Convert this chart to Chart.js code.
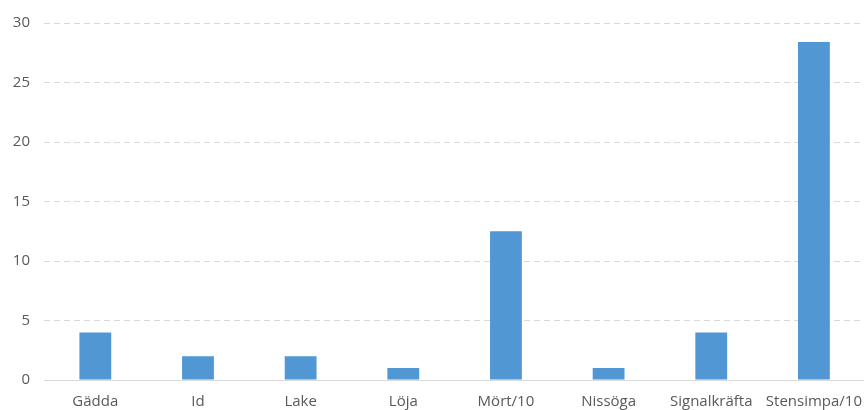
<!DOCTYPE html>
<html>
<head>
<meta charset="utf-8">
<script src="https://cdn.jsdelivr.net/npm/chart.js@4/dist/chart.umd.min.js"></script>
<style>
  html, body { margin: 0; padding: 0; background: #fff; overflow: hidden; }
  #wrap { width: 864px; height: 410px; overflow: hidden; }
</style>
</head>
<body>
<div id="wrap"><canvas id="chart" width="867" height="410"></canvas></div>
<script>
// Data
const categories = ['Gädda', 'Id', 'Lake', 'Löja', 'Mört/10', 'Nissöga', 'Signalkräfta', 'Stensimpa/10'];
const values = [4, 2, 2, 1, 12.5, 1, 4, 28.4];
const yTicks = [0, 5, 10, 15, 20, 25, 30];

const ctx = document.getElementById('chart').getContext('2d');
new Chart(ctx, {
    type: 'bar',
    data: {
        labels: categories,
        datasets: [{
            data: values,
            backgroundColor: '#5097d4',
            categoryPercentage: 1,
            barPercentage: 0.31
        }]
    },
    options: {
        responsive: false,
        animation: false,
        layout: { padding: { top: 22, right: 0, left: 0, bottom: 0 } },
        plugins: { legend: { display: false }, tooltip: { enabled: false } },
        scales: {
            x: {
                grid: { display: false },
                border: { color: '#d9d9d9', width: 1 },
                ticks: { color: '#595959', font: { family: 'Open Sans', size: 15 }, padding: 5, maxRotation: 0 },
                afterFit: (s) => { s.height = 30; }
            },
            y: {
                min: 0,
                max: 30,
                afterBuildTicks: (s) => { s.ticks = yTicks.map(v => ({ value: v })); },
                grid: {
                    color: (c) => c.tick && c.tick.value === 0 ? 'rgba(0,0,0,0)' : '#d9d9d9',
                    tickLength: 0
                },
                border: { display: false, dash: [6, 4] },
                ticks: { color: '#595959', font: { family: 'Open Sans', size: 15 }, padding: 14 },
                afterFit: (s) => { s.width = 44; }
            }
        }
    }
});
</script>
</body>
</html>
